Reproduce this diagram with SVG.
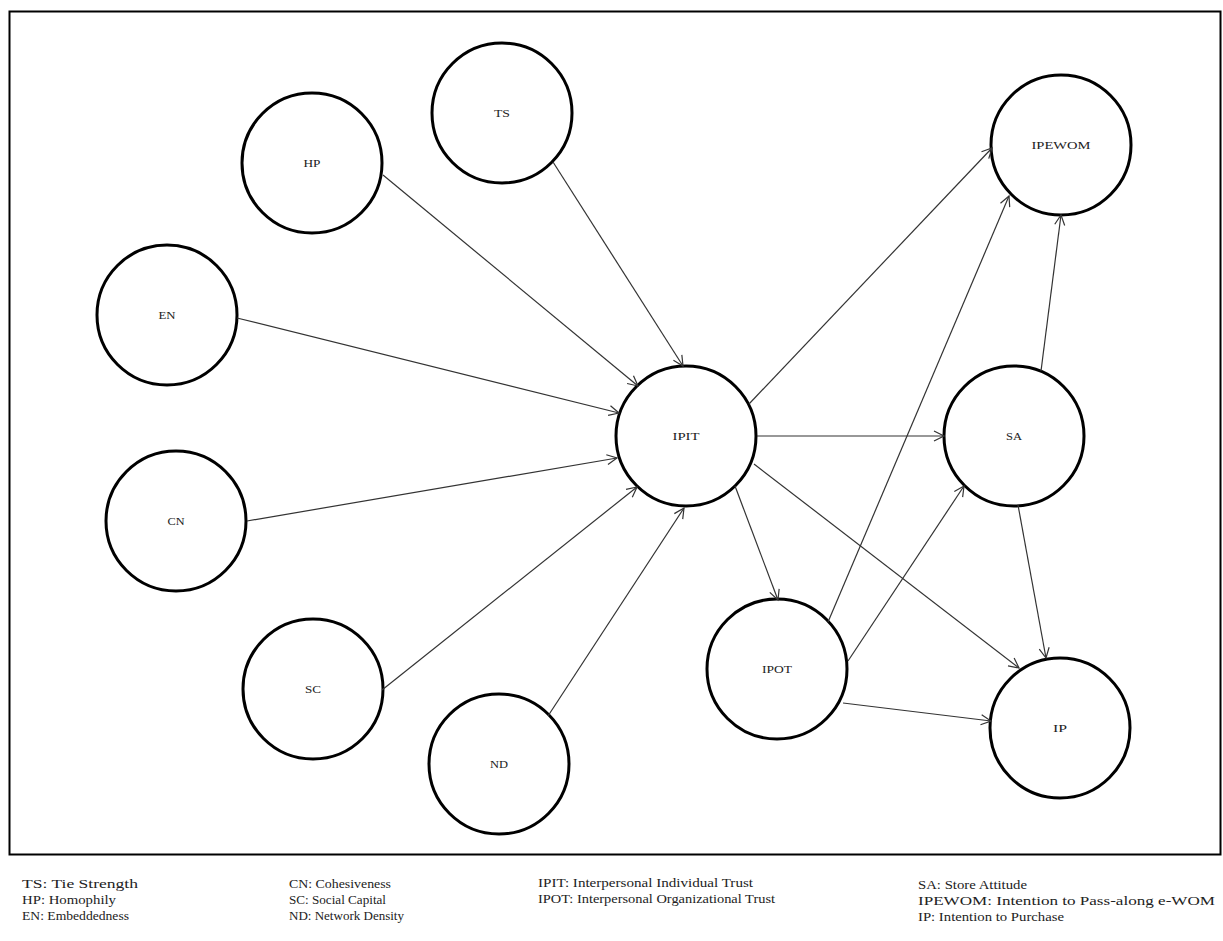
<svg xmlns="http://www.w3.org/2000/svg" width="1223" height="941" viewBox="0 0 1223 941">
<defs>
<marker id="arr" markerUnits="userSpaceOnUse" markerWidth="14" markerHeight="14" refX="11" refY="6" orient="auto">
<path d="M1,1 L11,6 L1,11" fill="none" stroke="#333" stroke-width="1.2"/>
</marker>
</defs>
<style>
.node circle{fill:#fff;stroke:#000;stroke-width:3}
.node text{font-family:"Liberation Serif","Times New Roman",serif;font-size:11px;fill:#222;text-anchor:middle}
.conn line{stroke:#333;stroke-width:1.2;marker-end:url(#arr)}
.leg text{font-family:"Liberation Serif","Times New Roman",serif;font-size:12.5px;fill:#222}
</style>
<rect x="9.5" y="11.5" width="1211" height="843" fill="#fff" stroke="#000" stroke-width="2"/>
<g id="TS" class="node"><circle cx="502" cy="113" r="70"/><text x="502" y="117" textLength="16" lengthAdjust="spacingAndGlyphs">TS</text></g>
<g id="HP" class="node"><circle cx="312" cy="163" r="70"/><text x="312" y="167" textLength="17" lengthAdjust="spacingAndGlyphs">HP</text></g>
<g id="EN" class="node"><circle cx="167" cy="315" r="70"/><text x="167" y="319" textLength="17" lengthAdjust="spacingAndGlyphs">EN</text></g>
<g id="CN" class="node"><circle cx="176" cy="521" r="70"/><text x="176" y="525" textLength="17" lengthAdjust="spacingAndGlyphs">CN</text></g>
<g id="SC" class="node"><circle cx="313" cy="689" r="70"/><text x="313" y="693" textLength="16" lengthAdjust="spacingAndGlyphs">SC</text></g>
<g id="ND" class="node"><circle cx="499" cy="764" r="70"/><text x="499" y="768" textLength="18" lengthAdjust="spacingAndGlyphs">ND</text></g>
<g id="IPIT" class="node"><circle cx="686" cy="436" r="70"/><text x="686" y="440" textLength="27" lengthAdjust="spacingAndGlyphs">IPIT</text></g>
<g id="IPEWOM" class="node"><circle cx="1061" cy="145" r="70"/><text x="1061" y="149" textLength="59" lengthAdjust="spacingAndGlyphs">IPEWOM</text></g>
<g id="SA" class="node"><circle cx="1014" cy="436" r="70"/><text x="1014" y="440" textLength="16" lengthAdjust="spacingAndGlyphs">SA</text></g>
<g id="IPOT" class="node"><circle cx="777" cy="669" r="70"/><text x="777" y="673" textLength="30" lengthAdjust="spacingAndGlyphs">IPOT</text></g>
<g id="IP" class="node"><circle cx="1060" cy="728" r="70"/><text x="1060" y="732" textLength="14" lengthAdjust="spacingAndGlyphs">IP</text></g>
<g id="connectors" class="conn">
<line x1="383" y1="175" x2="638" y2="386"/>
<line x1="553" y1="162" x2="683" y2="366"/>
<line x1="237" y1="318" x2="619" y2="413"/>
<line x1="247" y1="521" x2="617" y2="458"/>
<line x1="382" y1="690" x2="637" y2="487"/>
<line x1="548" y1="716" x2="684" y2="508"/>
<line x1="749" y1="404" x2="992" y2="148"/>
<line x1="757" y1="436" x2="944" y2="436"/>
<line x1="735" y1="486" x2="778" y2="600"/>
<line x1="754" y1="464" x2="1019" y2="668"/>
<line x1="828" y1="622" x2="1009" y2="196"/>
<line x1="848" y1="661" x2="964" y2="486"/>
<line x1="843" y1="703" x2="991" y2="721"/>
<line x1="1041" y1="371" x2="1061" y2="215"/>
<line x1="1018" y1="505" x2="1046" y2="658"/>
</g>
<g id="legend" class="leg">
<text x="22" y="888" textLength="116" lengthAdjust="spacingAndGlyphs">TS: Tie Strength</text>
<text x="22" y="904" textLength="94" lengthAdjust="spacingAndGlyphs">HP: Homophily</text>
<text x="22" y="920" textLength="107" lengthAdjust="spacingAndGlyphs">EN: Embeddedness</text>
<text x="289" y="888" textLength="102" lengthAdjust="spacingAndGlyphs">CN: Cohesiveness</text>
<text x="289" y="904" textLength="97" lengthAdjust="spacingAndGlyphs">SC: Social Capital</text>
<text x="289" y="920" textLength="115" lengthAdjust="spacingAndGlyphs">ND: Network Density</text>
<text x="538" y="887" textLength="215" lengthAdjust="spacingAndGlyphs">IPIT: Interpersonal Individual Trust</text>
<text x="538" y="903" textLength="237" lengthAdjust="spacingAndGlyphs">IPOT: Interpersonal Organizational Trust</text>
<text x="918" y="889" textLength="109" lengthAdjust="spacingAndGlyphs">SA: Store Attitude</text>
<text x="918" y="905" textLength="297" lengthAdjust="spacingAndGlyphs">IPEWOM: Intention to Pass-along e-WOM</text>
<text x="918" y="921" textLength="146" lengthAdjust="spacingAndGlyphs">IP: Intention to Purchase</text>
</g>
</svg>
